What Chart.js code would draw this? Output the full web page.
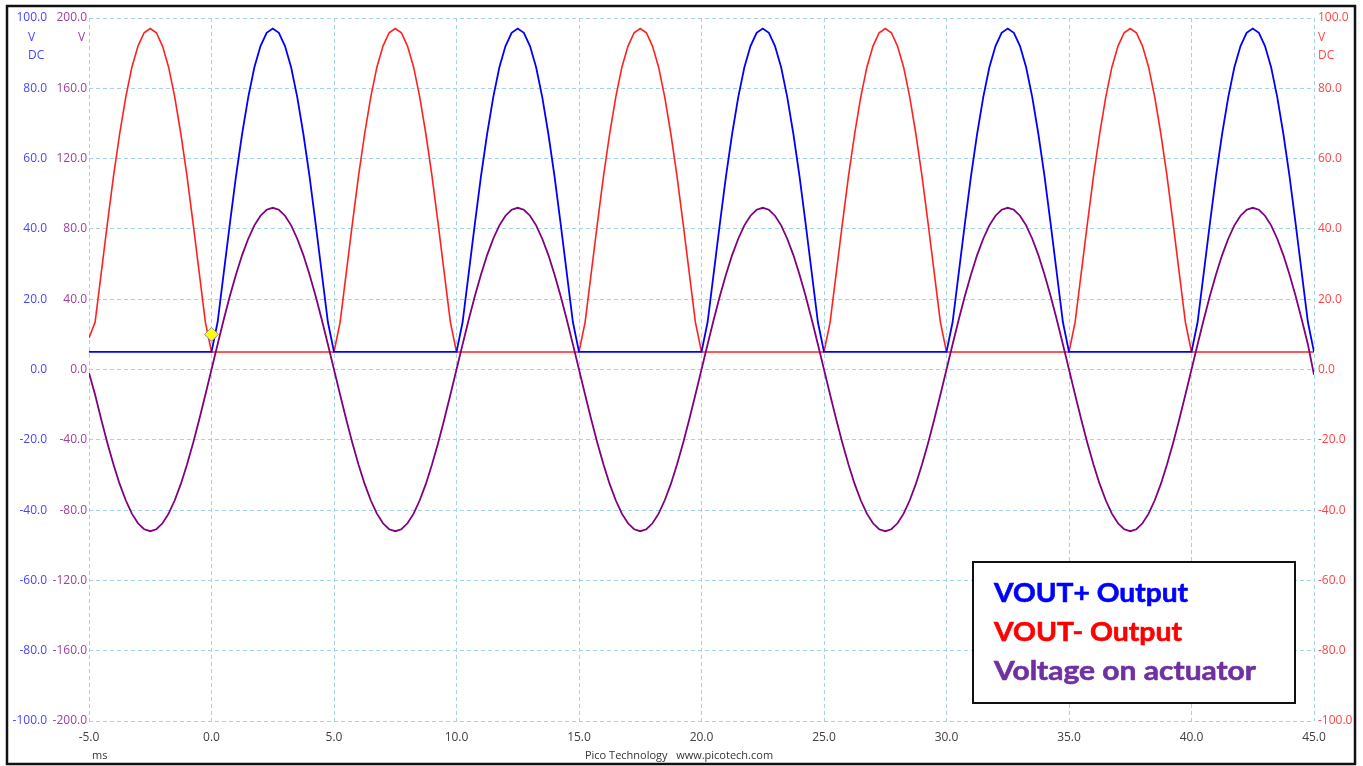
<!DOCTYPE html>
<html>
<head>
<meta charset="utf-8">
<script src="https://cdn.jsdelivr.net/npm/chart.js@4"></script>
<style>
  html, body { margin: 0; padding: 0; background: #ffffff; }
  canvas { display: block; }
</style>
</head>
<body>
<canvas id="c" width="1363" height="766"></canvas>
<script>
// ---- Data (time in ms, voltages in V) ----
const timeMs = [
  -5,-4.75,-4.5,-4.25,-4,-3.75,-3.5,-3.25,-3,-2.75,-2.5,-2.25,-2,-1.75,-1.5,-1.25,-1,-0.75,-0.5,-0.25,
  0,0.25,0.5,0.75,1,1.25,1.5,1.75,2,2.25,2.5,2.75,3,3.25,3.5,3.75,4,4.25,4.5,4.75,
  5,5.25,5.5,5.75,6,6.25,6.5,6.75,7,7.25,7.5,7.75,8,8.25,8.5,8.75,9,9.25,9.5,9.75,
  10,10.25,10.5,10.75,11,11.25,11.5,11.75,12,12.25,12.5,12.75,13,13.25,13.5,13.75,14,14.25,14.5,14.75,
  15,15.25,15.5,15.75,16,16.25,16.5,16.75,17,17.25,17.5,17.75,18,18.25,18.5,18.75,19,19.25,19.5,19.75,
  20,20.25,20.5,20.75,21,21.25,21.5,21.75,22,22.25,22.5,22.75,23,23.25,23.5,23.75,24,24.25,24.5,24.75,
  25,25.25,25.5,25.75,26,26.25,26.5,26.75,27,27.25,27.5,27.75,28,28.25,28.5,28.75,29,29.25,29.5,29.75,
  30,30.25,30.5,30.75,31,31.25,31.5,31.75,32,32.25,32.5,32.75,33,33.25,33.5,33.75,34,34.25,34.5,34.75,
  35,35.25,35.5,35.75,36,36.25,36.5,36.75,37,37.25,37.5,37.75,38,38.25,38.5,38.75,39,39.25,39.5,39.75,
  40,40.25,40.5,40.75,41,41.25,41.5,41.75,42,42.25,42.5,42.75,43,43.25,43.5,43.75,44,44.25,44.5,44.75,
  45
];

// VOUT+ Output (left axis, V DC, -100..100)
const vOutPlus = [
  5,5,5,5,5,5,5,5,5,5,5,5,5,5,5,5,5,5,5,5,
  5,13.5,27.5,41.5,55.0,67.0,77.5,86.0,92.0,95.8,97.0,95.8,92.0,86.0,77.5,67.0,55.0,41.5,27.5,13.5,
  5,5,5,5,5,5,5,5,5,5,5,5,5,5,5,5,5,5,5,5,
  5,13.5,27.5,41.5,55.0,67.0,77.5,86.0,92.0,95.8,97.0,95.8,92.0,86.0,77.5,67.0,55.0,41.5,27.5,13.5,
  5,5,5,5,5,5,5,5,5,5,5,5,5,5,5,5,5,5,5,5,
  5,13.5,27.5,41.5,55.0,67.0,77.5,86.0,92.0,95.8,97.0,95.8,92.0,86.0,77.5,67.0,55.0,41.5,27.5,13.5,
  5,5,5,5,5,5,5,5,5,5,5,5,5,5,5,5,5,5,5,5,
  5,13.5,27.5,41.5,55.0,67.0,77.5,86.0,92.0,95.8,97.0,95.8,92.0,86.0,77.5,67.0,55.0,41.5,27.5,13.5,
  5,5,5,5,5,5,5,5,5,5,5,5,5,5,5,5,5,5,5,5,
  5,13.5,27.5,41.5,55.0,67.0,77.5,86.0,92.0,95.8,97.0,95.8,92.0,86.0,77.5,67.0,55.0,41.5,27.5,13.5,
  5
];

// VOUT- Output (right axis, V DC, -100..100)
const vOutMinus = [
  9,13.5,27.5,41.5,55.0,67.0,77.5,86.0,92.0,95.8,97.0,95.8,92.0,86.0,77.5,67.0,55.0,41.5,27.5,13.5,
  5,5,5,5,5,5,5,5,5,5,5,5,5,5,5,5,5,5,5,5,
  5,13.5,27.5,41.5,55.0,67.0,77.5,86.0,92.0,95.8,97.0,95.8,92.0,86.0,77.5,67.0,55.0,41.5,27.5,13.5,
  5,5,5,5,5,5,5,5,5,5,5,5,5,5,5,5,5,5,5,5,
  5,13.5,27.5,41.5,55.0,67.0,77.5,86.0,92.0,95.8,97.0,95.8,92.0,86.0,77.5,67.0,55.0,41.5,27.5,13.5,
  5,5,5,5,5,5,5,5,5,5,5,5,5,5,5,5,5,5,5,5,
  5,13.5,27.5,41.5,55.0,67.0,77.5,86.0,92.0,95.8,97.0,95.8,92.0,86.0,77.5,67.0,55.0,41.5,27.5,13.5,
  5,5,5,5,5,5,5,5,5,5,5,5,5,5,5,5,5,5,5,5,
  5,13.5,27.5,41.5,55.0,67.0,77.5,86.0,92.0,95.8,97.0,95.8,92.0,86.0,77.5,67.0,55.0,41.5,27.5,13.5,
  5,5,5,5,5,5,5,5,5,5,5,5,5,5,5,5,5,5,5,5,
  5
];

// Voltage on actuator (inner left axis, V, -200..200)
const vActuator = [
  -2,-14.4,-28.4,-41.8,-54.1,-65.1,-74.4,-82.0,-87.5,-90.9,-92.0,-90.9,-87.5,-82.0,-74.4,-65.1,-54.1,-41.8,-28.4,-14.4,
  0,14.4,28.4,41.8,54.1,65.1,74.4,82.0,87.5,90.9,92.0,90.9,87.5,82.0,74.4,65.1,54.1,41.8,28.4,14.4,
  0,-14.4,-28.4,-41.8,-54.1,-65.1,-74.4,-82.0,-87.5,-90.9,-92.0,-90.9,-87.5,-82.0,-74.4,-65.1,-54.1,-41.8,-28.4,-14.4,
  0,14.4,28.4,41.8,54.1,65.1,74.4,82.0,87.5,90.9,92.0,90.9,87.5,82.0,74.4,65.1,54.1,41.8,28.4,14.4,
  0,-14.4,-28.4,-41.8,-54.1,-65.1,-74.4,-82.0,-87.5,-90.9,-92.0,-90.9,-87.5,-82.0,-74.4,-65.1,-54.1,-41.8,-28.4,-14.4,
  0,14.4,28.4,41.8,54.1,65.1,74.4,82.0,87.5,90.9,92.0,90.9,87.5,82.0,74.4,65.1,54.1,41.8,28.4,14.4,
  0,-14.4,-28.4,-41.8,-54.1,-65.1,-74.4,-82.0,-87.5,-90.9,-92.0,-90.9,-87.5,-82.0,-74.4,-65.1,-54.1,-41.8,-28.4,-14.4,
  0,14.4,28.4,41.8,54.1,65.1,74.4,82.0,87.5,90.9,92.0,90.9,87.5,82.0,74.4,65.1,54.1,41.8,28.4,14.4,
  0,-14.4,-28.4,-41.8,-54.1,-65.1,-74.4,-82.0,-87.5,-90.9,-92.0,-90.9,-87.5,-82.0,-74.4,-65.1,-54.1,-41.8,-28.4,-14.4,
  0,14.4,28.4,41.8,54.1,65.1,74.4,82.0,87.5,90.9,92.0,90.9,87.5,82.0,74.4,65.1,54.1,41.8,28.4,14.4,
  -3
];

// Trigger marker (yellow diamond)
const triggerTime = [0];
const triggerLevel = [10];

// Axis ranges / tick steps
const xRange = [-5, 45];
const xStep = 5;
const leftRange = [-100, 100];
const leftStep = 20;
const actRange = [-200, 200];
const actStep = 40;
const rightRange = [-100, 100];
const rightStep = 20;

// Legend text and unit labels
const legendLabels = ['VOUT+ Output', 'VOUT- Output', 'Voltage on actuator'];
const legendColors = ['#0000ff', '#ff0000', '#7030a0'];
const xUnit = 'ms';
const footerText = 'Pico Technology   www.picotech.com';

// ---- Chart ----
const FONT = "'Open Sans', 'DejaVu Sans', sans-serif";
Chart.defaults.font.family = FONT;
Chart.defaults.font.size = 12;

const GRID = '#a3d4e3';
const DASH = [4, 3];

const toXY = (xs, ys) => xs.map((x, i) => ({ x: x, y: ys[i] }));
const fmt1 = v => Number(v).toFixed(1);

const overlay = {
  id: 'overlay',
  beforeDraw(chart) {
    const ctx = chart.ctx;
    ctx.save();
    ctx.fillStyle = '#ffffff';
    ctx.fillRect(0, 0, chart.width, chart.height);
    ctx.restore();
  },
  afterDraw(chart) {
    const ctx = chart.ctx;
    ctx.save();
    // unit labels near top tick labels
    ctx.font = '12px ' + FONT;
    ctx.textBaseline = 'middle';
    ctx.textAlign = 'left';
    ctx.fillStyle = '#4646ff';
    ctx.fillText('V', 28, 38);
    ctx.fillText('DC', 28, 56);
    ctx.fillStyle = '#a0409f';
    ctx.fillText('V', 78, 38);
    ctx.fillStyle = '#ff4646';
    ctx.fillText('V', 1318, 38);
    ctx.fillText('DC', 1318, 56);

    // bottom texts
    ctx.fillStyle = '#333333';
    ctx.font = '11px ' + FONT;
    ctx.fillText(xUnit, 92, 756);
    ctx.textAlign = 'center';
    ctx.fillText(footerText, 679, 756);

    // legend box
    const bx = 973, by = 562, bw = 322, bh = 141;
    ctx.fillStyle = '#ffffff';
    ctx.fillRect(bx, by, bw, bh);
    ctx.lineWidth = 2;
    ctx.strokeStyle = '#111111';
    ctx.strokeRect(bx, by, bw, bh);

    ctx.font = "bold 27px Lato, 'Open Sans', sans-serif";
    ctx.textAlign = 'left';
    ctx.textBaseline = 'alphabetic';
    const targetWidths = [194, 188, 262];
    const baselines = [602, 641, 680];
    legendLabels.forEach((s, i) => {
      const w = ctx.measureText(s).width;
      ctx.save();
      ctx.translate(994, baselines[i]);
      ctx.scale(targetWidths[i] / w, 1);
      ctx.fillStyle = legendColors[i];
      ctx.fillText(s, 0, 0);
      ctx.strokeStyle = legendColors[i];
      ctx.lineWidth = 0.6;
      ctx.strokeText(s, 0, 0);
      ctx.restore();
    });

    // outer frame
    ctx.lineWidth = 2.5;
    ctx.strokeStyle = '#111111';
    ctx.strokeRect(7, 6, 1348, 758);
    ctx.restore();
  }
};

new Chart(document.getElementById('c'), {
  type: 'line',
  data: {
    datasets: [
      {
        label: 'Trigger',
        type: 'scatter',
        data: toXY(triggerTime, triggerLevel),
        yAxisID: 'yBlue',
        pointStyle: 'rectRot',
        pointRadius: 7,
        pointBackgroundColor: '#ffff00',
        pointBorderColor: '#8c8ca0',
        pointBorderWidth: 1,
        showLine: false
      },
      {
        label: legendLabels[2],
        data: toXY(timeMs, vActuator),
        yAxisID: 'yAct',
        borderColor: '#800080',
        borderWidth: 1.8,
        pointRadius: 0,
        fill: false
      },
      {
        label: legendLabels[0],
        data: toXY(timeMs, vOutPlus),
        yAxisID: 'yBlue',
        borderColor: '#0000ff',
        borderWidth: 1.8,
        pointRadius: 0,
        fill: false
      },
      {
        label: legendLabels[1],
        data: toXY(timeMs, vOutMinus),
        yAxisID: 'yRed',
        borderColor: '#ff2020',
        borderWidth: 1.6,
        pointRadius: 0,
        fill: false
      }
    ]
  },
  options: {
    responsive: false,
    animation: false,
    layout: { padding: { top: 18, left: 0, right: 0, bottom: 0 } },
    plugins: { legend: { display: false }, tooltip: { enabled: false } },
    elements: { line: { tension: 0 } },
    scales: {
      x: {
        type: 'linear',
        min: xRange[0], max: xRange[1],
        ticks: { stepSize: xStep, callback: fmt1, color: '#404040', padding: 9, maxRotation: 0, autoSkip: false, font: { size: 12 } },
        grid: { color: GRID, lineWidth: 1, drawTicks: false },
        border: { display: false, dash: DASH },
        afterFit: s => { s.height = 45; }
      },
      yBlue: {
        position: 'left', weight: 1,
        min: leftRange[0], max: leftRange[1],
        ticks: { stepSize: leftStep, callback: fmt1, color: '#4646ff', padding: 0, font: { size: 12 } },
        grid: { color: GRID, lineWidth: 1, drawTicks: false },
        border: { display: false, dash: DASH },
        afterFit: s => { s.width = 47; }
      },
      yAct: {
        position: 'left', weight: 0,
        min: actRange[0], max: actRange[1],
        ticks: { stepSize: actStep, callback: fmt1, color: '#a0409f', padding: 2, font: { size: 12 } },
        grid: { display: false, drawTicks: false },
        border: { display: false },
        afterFit: s => { s.width = 42; }
      },
      yRed: {
        position: 'right',
        min: rightRange[0], max: rightRange[1],
        ticks: { stepSize: rightStep, callback: fmt1, color: '#ff4646', padding: 4, font: { size: 12 } },
        grid: { display: false, drawTicks: false },
        border: { display: false },
        afterFit: s => { s.width = 49; }
      }
    }
  },
  plugins: [overlay]
});
</script>
</body>
</html>
